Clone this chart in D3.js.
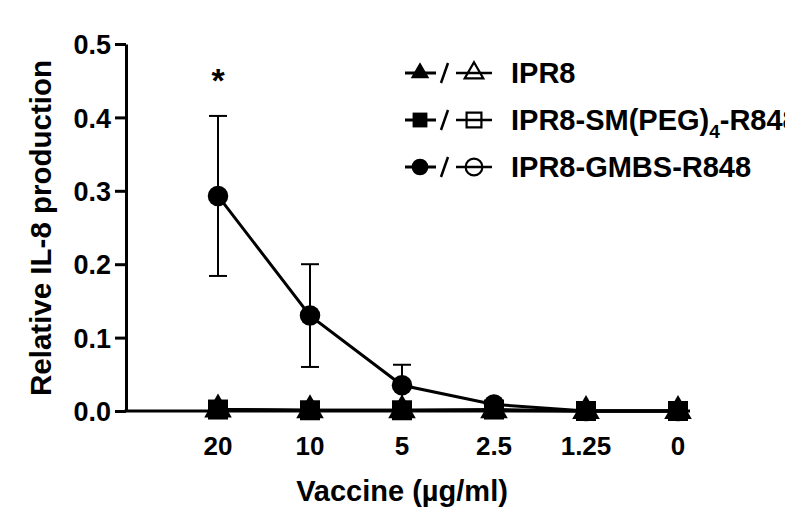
<!DOCTYPE html>
<html><head><meta charset="utf-8">
<script src="https://cdn.jsdelivr.net/npm/d3@7"></script>
<style>body{margin:0;background:#fff}text{font-family:"Liberation Sans",Arial,sans-serif;font-weight:bold;fill:#000}</style>
</head><body><svg id="c" width="785" height="525"></svg>
<script>
const categories = ["20","10","5","2.5","1.25","0"];
const yTicks = [0,0.1,0.2,0.3,0.4,0.5];
const ipr8 = [0.002,0.001,0.001,0.001,0.0,0.0];
const ipr8Err = [0.003,0.002,0.002,0.001,0,0];
const smpeg = [0.002,0.001,0.001,0.002,0.0,0.0];
const smpegErr = [0.004,0.002,0.003,0.003,0,0];
const gmbs = [0.293,0.130,0.035,0.009,0.0,0.0];
const gmbsErr = [0.109,0.070,0.028,0.004,0,0];
const seriesNames = ["IPR8","IPR8-SM(PEG)","IPR8-GMBS-R848"];

const svg = d3.select("#c");
const x = d3.scalePoint().domain(categories).range([218,678]);
const y = d3.scaleLinear().domain([0,0.5]).range([411,44]);
const axisX0 = 126, axisX1 = 690;

// y axis
const ya = svg.append("g").attr("transform",`translate(${axisX0},0)`)
  .call(d3.axisLeft(y).tickValues(yTicks).tickFormat(d3.format(".1f")).tickSize(11).tickSizeOuter(0));
ya.select(".domain").attr("stroke","#000").attr("stroke-width",3);
ya.selectAll(".tick line").attr("stroke","#000").attr("stroke-width",3);
ya.selectAll(".tick text").attr("font-size",27).attr("x",-15).attr("dy","0.36em");

// x axis line
svg.append("line").attr("x1",axisX0-1.5).attr("x2",axisX1).attr("y1",y(0)).attr("y2",y(0))
  .attr("stroke","#000").attr("stroke-width",3);
svg.append("g").selectAll("text").data(categories).join("text")
  .attr("x",d=>x(d)).attr("y",455).attr("text-anchor","middle").attr("font-size",26).text(d=>d);

// titles
svg.append("text").attr("x",402).attr("y",501).attr("text-anchor","middle").attr("font-size",29).text("Vaccine (µg/ml)");
svg.append("text").attr("transform","translate(51,228) rotate(-90)").attr("text-anchor","middle").attr("font-size",29.5).text("Relative IL-8 production");

const line = d3.line().x((d,i)=>x(categories[i])).y(d=>y(d));
function drawSeries(vals, errs, shape){
  const g = svg.append("g");
  g.append("path").datum(vals).attr("d",line).attr("fill","none").attr("stroke","#000").attr("stroke-width",3);
  vals.forEach((v,i)=>{
    const cx = x(categories[i]);
    if(errs[i]>0){
      g.append("line").attr("x1",cx).attr("x2",cx).attr("y1",y(v+errs[i])).attr("y2",y(Math.max(0,v-errs[i]))).attr("stroke","#000").attr("stroke-width",2);
      g.append("line").attr("x1",cx-9).attr("x2",cx+9).attr("y1",y(v+errs[i])).attr("y2",y(v+errs[i])).attr("stroke","#000").attr("stroke-width",2);
      g.append("line").attr("x1",cx-9).attr("x2",cx+9).attr("y1",y(v-errs[i])).attr("y2",y(v-errs[i])).attr("stroke","#000").attr("stroke-width",2);
    }
  });
  g.selectAll("path.m").data(vals).join("path").attr("class","m")
    .attr("transform",(d,i)=>`translate(${x(categories[i])},${y(d)})`)
    .attr("d",d3.symbol().type(shape).size(shape===d3.symbolSquare?400:330)).attr("fill","#000");
}
drawSeries(gmbs,gmbsErr,d3.symbolCircle);
drawSeries(ipr8,ipr8Err,d3.symbolTriangle);
drawSeries(smpeg,smpegErr,d3.symbolSquare);

// asterisk
svg.append("text").attr("x",x("20")).attr("y",92).attr("text-anchor","middle").attr("font-size",34).text("*");

// legend
const legY = [73,120,167];
const shapes = [d3.symbolTriangle,d3.symbolSquare,d3.symbolCircle];
const sizes = [150,220,220];
const lg = svg.append("g");
legY.forEach((ly,i)=>{
  lg.append("line").attr("x1",405).attr("x2",436).attr("y1",ly).attr("y2",ly).attr("stroke","#000").attr("stroke-width",3);
  lg.append("path").attr("transform",`translate(420,${ly})`).attr("d",d3.symbol().type(shapes[i]).size(sizes[i])).attr("fill","#000");
  lg.append("line").attr("x1",441).attr("x2",448).attr("y1",ly+10).attr("y2",ly-10).attr("stroke","#000").attr("stroke-width",2.5);
  lg.append("line").attr("x1",456).attr("x2",492).attr("y1",ly).attr("y2",ly).attr("stroke","#000").attr("stroke-width",2.5);
  lg.append("path").attr("transform",`translate(474,${ly})`).attr("d",d3.symbol().type(shapes[i]).size(sizes[i])).attr("fill","none").attr("stroke","#000").attr("stroke-width",2.2);
  const t = lg.append("text").attr("x",511).attr("y",ly).attr("dy","0.36em").attr("font-size",29);
  if(i===1){
    t.append("tspan").text(seriesNames[1]);
    t.append("tspan").attr("font-size",19).attr("dy",8).text("4");
    t.append("tspan").attr("dy",-8).text("-R848");
  } else t.text(seriesNames[i]);
});
</script></body></html>
